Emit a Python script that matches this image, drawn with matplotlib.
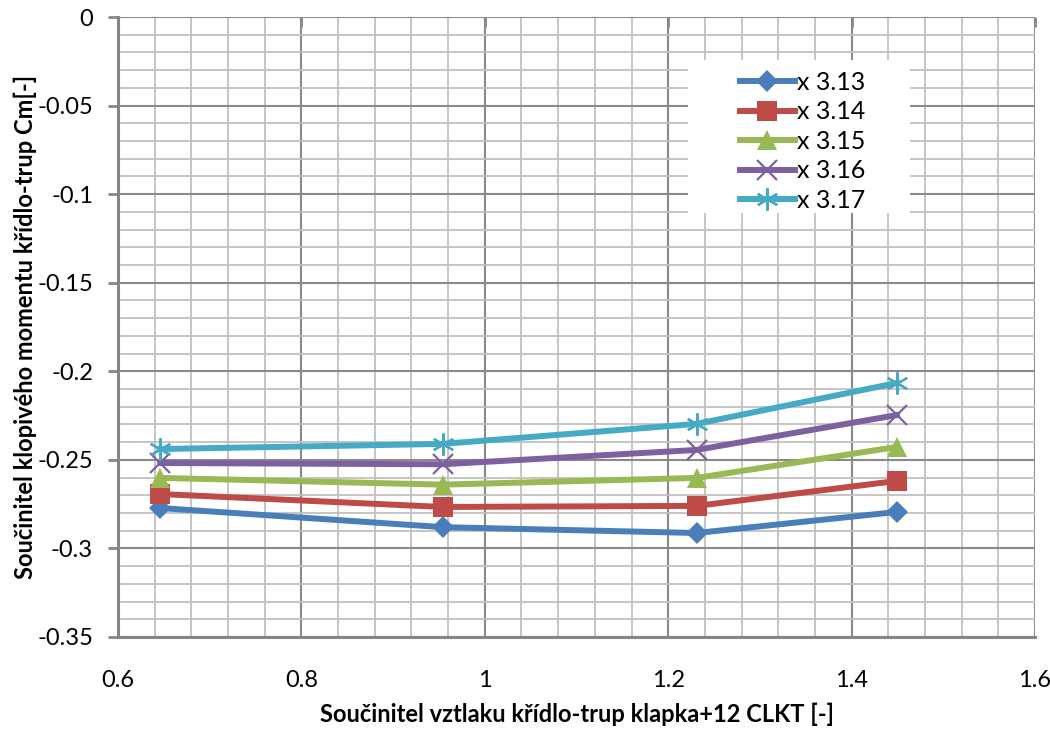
import numpy as np
import matplotlib.pyplot as plt
from matplotlib.ticker import MultipleLocator
from matplotlib.patches import Rectangle

plt.rcParams['font.family'] = ['Lato', 'DejaVu Sans']

x = [0.646, 0.954, 1.231, 1.4495]
cm_313 = [-0.2772, -0.2880, -0.2913, -0.2794]
cm_314 = [-0.2693, -0.2766, -0.2760, -0.2619]
cm_315 = [-0.2602, -0.2640, -0.2602, -0.2427]
cm_316 = [-0.2518, -0.2525, -0.2444, -0.2247]
cm_317 = [-0.2439, -0.2410, -0.2297, -0.2066]
labels = ['x 3.13', 'x 3.14', 'x 3.15', 'x 3.16', 'x 3.17']

series = [cm_313, cm_314, cm_315, cm_316, cm_317]
colors = ['#4A7EBB', '#BE4B48', '#98B954', '#7D60A0', '#46AAC5']
markers = ['D', 's', '^', 'x', (6, 2, 0)]
msizes = [11, 14, 14, 14, 16]

fig = plt.figure(figsize=(10.5, 7.33), dpi=100)
ax = fig.add_axes([0.1124, 0.131, 0.8733, 0.8458])

for i in range(len(series)):
    if i >= 3:
        ax.plot(x, series[i], color=colors[i], lw=4.3, marker=markers[i],
                ms=msizes[i], mew=1.6, label=labels[i], zorder=3)
    else:
        ax.plot(x, series[i], color=colors[i], lw=4.3, marker=markers[i],
                ms=msizes[i], mew=0, label=labels[i], zorder=3)

ax.set_xlim(0.6, 1.6)
ax.set_ylim(-0.35, 0)
ax.xaxis.set_minor_locator(MultipleLocator(0.04))
ax.yaxis.set_minor_locator(MultipleLocator(0.01))
ax.set_xticks([0.6, 0.8, 1.0, 1.2, 1.4, 1.6])
ax.set_xticklabels(['0.6', '0.8', '1', '1.2', '1.4', '1.6'])
ax.set_yticks([0, -0.05, -0.1, -0.15, -0.2, -0.25, -0.3, -0.35])
ax.set_yticklabels(['0', '-0.05', '-0.1', '-0.15', '-0.2', '-0.25', '-0.3', '-0.35'])

ax.grid(which='minor', color='#c0c0c0', lw=1.3, zorder=0)
ax.grid(which='major', color='#8a8a8a', lw=1.5, zorder=0)
ax.set_axisbelow(True)

for s in ['top', 'right']:
    ax.spines[s].set_visible(False)
for s in ['left', 'bottom']:
    ax.spines[s].set_color('#868686')
    ax.spines[s].set_linewidth(2.2)

ax.tick_params(axis='x', which='major', top=True, bottom=False, direction='in',
               length=7, width=2, color='#868686', labelsize=17, pad=24)
ax.tick_params(axis='x', which='minor', top=False, bottom=False)
ax.tick_params(axis='y', which='major', left=True, direction='out',
               length=7, width=2, color='#868686', labelsize=17, pad=11)
ax.tick_params(axis='y', which='minor', left=False)

ax.set_xlabel('Součinitel vztlaku křídlo-trup klapka+12 CLKT [-]',
              fontsize=17, fontweight='bold', labelpad=8)
ax.set_ylabel('Součinitel klopivého momentu křídlo-trup Cm[-]',
              fontsize=17, fontweight='bold', labelpad=0)

# white legend panel
ax.add_patch(Rectangle((0.6216, 0.6839), 0.242, 0.2468, transform=ax.transAxes,
                       facecolor='white', edgecolor='none', zorder=2.5))
leg = ax.legend(loc='upper left', bbox_to_anchor=(0.678, 0.913), fontsize=18,
                frameon=False, borderpad=0, borderaxespad=0,
                handlelength=2.2, handletextpad=0.1, labelspacing=0.26)
leg.set_zorder(4)

plt.savefig('out.png', dpi=100)
